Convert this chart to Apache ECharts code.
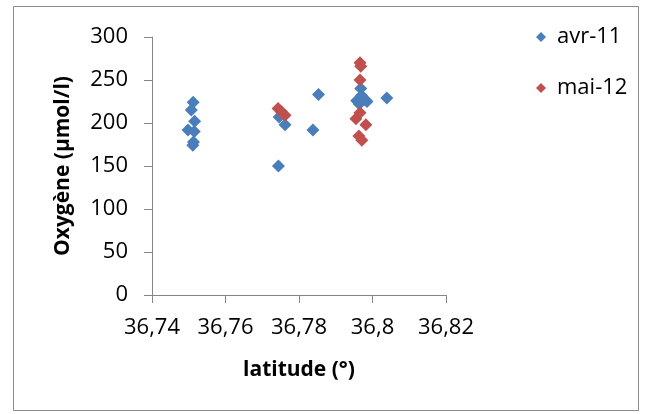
<!DOCTYPE html>
<html><head><meta charset="utf-8">
<script src="https://cdn.jsdelivr.net/npm/echarts@6/dist/echarts.min.js"></script>
<style>html,body{margin:0;padding:0;background:#fff}#c{width:646px;height:414px}</style>
</head><body><div id="c"></div>
<script>
var seriesNames = ['avr-11', 'mai-12'];
var avr11 = [
  [36.7512, 224], [36.7507, 215], [36.7516, 202], [36.7498, 192], [36.7515, 190], [36.7513, 178], [36.7511, 174],
  [36.7746, 207], [36.7762, 198], [36.7838, 192], [36.7744, 150], [36.7853, 233],
  [36.7968, 240], [36.7957, 226], [36.7970, 232], [36.7980, 227], [36.7964, 222], [36.7985, 225], [36.8039, 229]
];
var mai12 = [
  [36.7743, 217], [36.7752, 213], [36.7762, 209],
  [36.7966, 270], [36.7968, 266], [36.7966, 250], [36.7966, 212], [36.7955, 205],
  [36.7982, 198], [36.7963, 185], [36.7971, 180]
];
var xTitle = 'latitude (°)';
var yTitle = 'Oxygène (µmol/l)';

var font = "'Open Sans', 'Noto Sans', sans-serif";
var chart = echarts.init(document.getElementById('c'), null, {renderer: 'canvas'});
chart.setOption({
  animation: false,
  backgroundColor: '#fff',
  graphic: [{type: 'rect', shape: {x: 13.5, y: 6.5, width: 625, height: 404}, style: {fill: 'none', stroke: '#8c8c8c', lineWidth: 1}, z: -1}],
  grid: {left: 152, right: 200, top: 37, bottom: 119},
  legend: {
    orient: 'vertical', left: 531, top: 21, itemGap: 29,
    icon: 'diamond', itemWidth: 10, itemHeight: 10,
    textStyle: {fontFamily: font, fontSize: 22, color: '#000', padding: [0, 0, 0, 6]},
    data: seriesNames
  },
  xAxis: {
    type: 'value', min: 36.74, max: 36.82, interval: 0.02,
    name: xTitle, nameLocation: 'middle', nameGap: 65,
    nameTextStyle: {fontFamily: font, fontSize: 21, fontWeight: 'bold', color: '#000'},
    axisLine: {lineStyle: {color: '#868686', width: 1}},
    axisTick: {show: true, length: 8, lineStyle: {color: '#868686'}},
    splitLine: {show: false},
    axisLabel: {fontFamily: font, fontSize: 22, color: '#000', margin: 22,
      formatter: function (v) { return String(+v.toFixed(2)).replace('.', ','); }}
  },
  yAxis: {
    type: 'value', min: 0, max: 300, interval: 50,
    name: yTitle, nameLocation: 'middle', nameGap: 78, nameRotate: 90,
    nameTextStyle: {fontFamily: font, fontSize: 21, fontWeight: 'bold', color: '#000'},
    axisLine: {show: true, lineStyle: {color: '#868686', width: 1}},
    axisTick: {show: true, length: 8, lineStyle: {color: '#868686'}},
    splitLine: {show: false},
    axisLabel: {fontFamily: font, fontSize: 22, color: '#000', margin: 24}
  },
  series: [
    {name: seriesNames[0], type: 'scatter', symbol: 'diamond', symbolSize: 13, data: avr11, itemStyle: {color: '#4a7ebb', opacity: 1}},
    {name: seriesNames[1], type: 'scatter', symbol: 'diamond', symbolSize: 13, data: mai12, itemStyle: {color: '#c0504d', opacity: 1}}
  ]
});
</script></body></html>
